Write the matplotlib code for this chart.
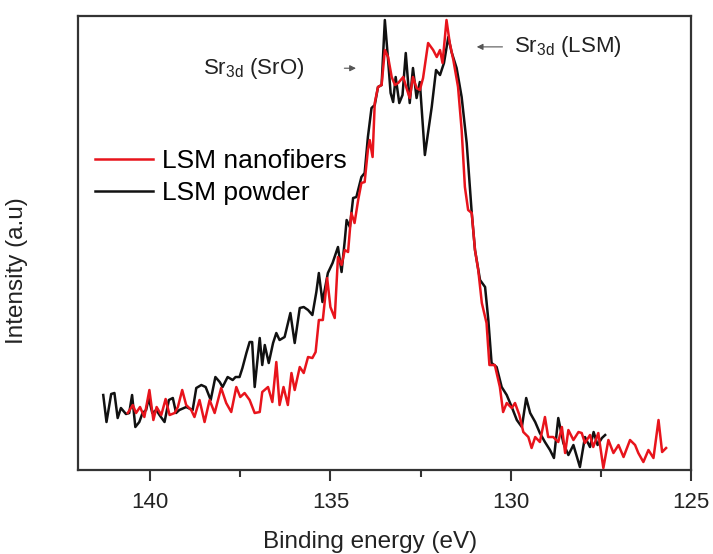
import numpy as np
import matplotlib
matplotlib.use('Agg')
import matplotlib.pyplot as plt
from matplotlib.ticker import MultipleLocator

plt.rcParams['font.family'] = ['Liberation Sans', 'DejaVu Sans']
plt.rcParams['mathtext.fontset'] = 'custom'
plt.rcParams['mathtext.rm'] = 'Liberation Sans'

# LSM powder (black), binding energy in eV and intensity in a.u.
powder_ev = [141.30, 141.21, 141.08, 140.99, 140.90, 140.81, 140.67, 140.58, 140.50, 140.41,
             140.30, 140.21, 140.11, 140.04, 139.94, 139.83, 139.74, 139.60, 139.48, 139.37,
             139.28, 139.19, 139.00, 138.82, 138.72, 138.58, 138.46, 138.32, 138.19, 138.07,
             137.99, 137.85, 137.71, 137.63, 137.52, 137.44, 137.33, 137.24, 137.17, 137.10,
             136.96, 136.89, 136.82, 136.71, 136.59, 136.50, 136.41, 136.27, 136.11, 135.99,
             135.85, 135.74, 135.62, 135.50, 135.39, 135.32, 135.22, 135.07, 134.94, 134.79,
             134.69, 134.60, 134.55, 134.46, 134.37, 134.28, 134.14, 134.05, 133.96, 133.86,
             133.77, 133.68, 133.58, 133.49, 133.40, 133.33, 133.26, 133.19, 133.09, 133.00,
             132.91, 132.80, 132.71, 132.61, 132.52, 132.38, 132.19, 132.07, 131.96, 131.85,
             131.73, 131.64, 131.50, 131.36, 131.22, 131.08, 130.99, 130.85, 130.71, 130.62,
             130.53, 130.39, 130.25, 130.11, 129.97, 129.83, 129.69, 129.57, 129.46, 129.32,
             129.19, 129.05, 128.91, 128.80, 128.68, 128.54, 128.40, 128.26, 128.08, 127.94,
             127.80, 127.70, 127.59, 127.47, 127.38]
powder_int = [75, 48, 76, 77, 52, 62, 56, 57, 75, 43,
              48, 57, 60, 72, 57, 60, 55, 48, 70, 72,
              57, 60, 63, 60, 82, 85, 83, 70, 93, 88,
              83, 93, 90, 93, 93, 102, 117, 128, 128, 83,
              132, 105, 125, 107, 127, 137, 130, 133, 157, 127,
              162, 163, 160, 155, 178, 197, 168, 197, 207, 223,
              198, 230, 250, 243, 272, 273, 293, 297, 333, 362,
              365, 383, 385, 450, 410, 377, 368, 393, 367, 375,
              417, 367, 402, 372, 388, 315, 363, 400, 395, 407,
              433, 418, 402, 373, 327, 257, 220, 190, 183, 150,
              107, 103, 83, 75, 63, 50, 43, 72, 57, 48,
              37, 28, 20, 12, 52, 27, 15, 25, 3, 33,
              23, 38, 25, 32, 35]

# LSM nanofibers (red)
fiber_ev = [140.62, 140.48, 140.39, 140.28, 140.16, 140.02, 139.91, 139.82, 139.69, 139.57,
            139.46, 139.32, 139.23, 139.11, 139.00, 138.86, 138.77, 138.63, 138.49, 138.35,
            138.21, 138.03, 137.89, 137.75, 137.61, 137.50, 137.38, 137.24, 137.10, 136.96,
            136.89, 136.73, 136.61, 136.50, 136.41, 136.30, 136.18, 136.08, 135.99, 135.85,
            135.74, 135.62, 135.50, 135.41, 135.32, 135.21, 135.09, 135.00, 134.88, 134.79,
            134.69, 134.60, 134.51, 134.42, 134.33, 134.23, 134.14, 134.05, 133.96, 133.91,
            133.83, 133.77, 133.68, 133.58, 133.49, 133.40, 133.30, 133.21, 133.12, 132.98,
            132.89, 132.80, 132.71, 132.61, 132.52, 132.43, 132.29, 132.15, 132.05, 131.96,
            131.89, 131.78, 131.69, 131.59, 131.46, 131.36, 131.27, 131.18, 131.08, 130.99,
            130.90, 130.80, 130.67, 130.59, 130.44, 130.30, 130.21, 130.11, 129.97, 129.88,
            129.76, 129.65, 129.51, 129.42, 129.32, 129.19, 129.05, 128.96, 128.82, 128.68,
            128.58, 128.49, 128.40, 128.26, 128.12, 128.03, 127.94, 127.80, 127.71, 127.57,
            127.43, 127.29, 127.15, 127.01, 126.87, 126.69, 126.55, 126.46, 126.32, 126.18,
            126.04, 125.90, 125.80, 125.69]
fiber_int = [57, 65, 57, 63, 53, 80, 50, 63, 55, 71,
             55, 57, 63, 80, 65, 60, 53, 70, 48, 70,
             57, 82, 67, 58, 83, 73, 77, 70, 57, 58,
             78, 83, 68, 108, 65, 83, 65, 97, 80, 103,
             97, 113, 112, 118, 150, 150, 192, 163, 152, 213,
             205, 220, 218, 257, 247, 270, 287, 288, 320, 330,
             313, 367, 383, 385, 420, 413, 393, 385, 387, 393,
             382, 372, 393, 382, 380, 392, 427, 420, 413, 420,
             407, 450, 427, 410, 383, 340, 283, 260, 257, 220,
             200, 167, 147, 105, 105, 83, 58, 67, 62, 67,
             55, 38, 33, 22, 33, 28, 53, 33, 33, 28,
             43, 17, 40, 30, 38, 37, 27, 35, 23, 37,
             2, 30, 17, 25, 13, 30, 25, 17, 8, 20,
             12, 50, 18, 22]

fig = plt.figure(figsize=(7.13, 5.54), dpi=100)
ax = fig.add_axes([0.1094, 0.1516, 0.8597, 0.8195])

ax.plot(fiber_ev, fiber_int, color='#e8141c', lw=1.8, label='LSM nanofibers', zorder=3)
ax.plot(powder_ev, powder_int, color='#111111', lw=1.8, label='LSM powder', zorder=2)

ax.set_xlim(142, 125)
ax.set_ylim(0, 454)
ax.xaxis.set_major_locator(MultipleLocator(5))
ax.xaxis.set_minor_locator(MultipleLocator(2.5))
ax.tick_params(axis='x', which='major', direction='out', length=8, width=1.5,
               labelsize=16, pad=8, color='#333333', labelcolor='#222222')
ax.tick_params(axis='x', which='minor', direction='out', length=5, width=1.5, color='#333333')
ax.set_yticks([])
for s in ax.spines.values():
    s.set_linewidth(1.6)
    s.set_color('#333333')

ax.set_xlabel('Binding energy (eV)', fontsize=17.5, labelpad=12, color='#222222')
ax.xaxis.set_label_coords(0.476, -0.135)
ax.set_ylabel('Intensity (a.u)', fontsize=17.5, color='#222222')
ax.yaxis.set_label_coords(-0.082, 0.44)

leg = ax.legend(loc='upper left', bbox_to_anchor=(-0.003, 0.748), frameon=False,
                fontsize=19, handlelength=2.2, handletextpad=0.35, labelspacing=0.3,
                borderaxespad=0.3)

ax.annotate('', xy=(0.458, 0.885), xytext=(0.430, 0.885), xycoords='axes fraction',
            arrowprops=dict(arrowstyle='-|>', color='#555555', lw=0.8,
                            mutation_scale=9))
ax.text(0.370, 0.885, r'Sr$_{\mathrm{3d}}$ (SrO)', transform=ax.transAxes,
        ha='right', va='center', fontsize=16, color='#222222')
ax.annotate('', xy=(0.646, 0.932), xytext=(0.697, 0.932), xycoords='axes fraction',
            arrowprops=dict(arrowstyle='-|>', color='#555555', lw=0.8,
                            mutation_scale=9))
ax.text(0.711, 0.932, r'Sr$_{\mathrm{3d}}$ (LSM)', transform=ax.transAxes,
        ha='left', va='center', fontsize=16, color='#222222')

fig.savefig('out.png', dpi=100)
